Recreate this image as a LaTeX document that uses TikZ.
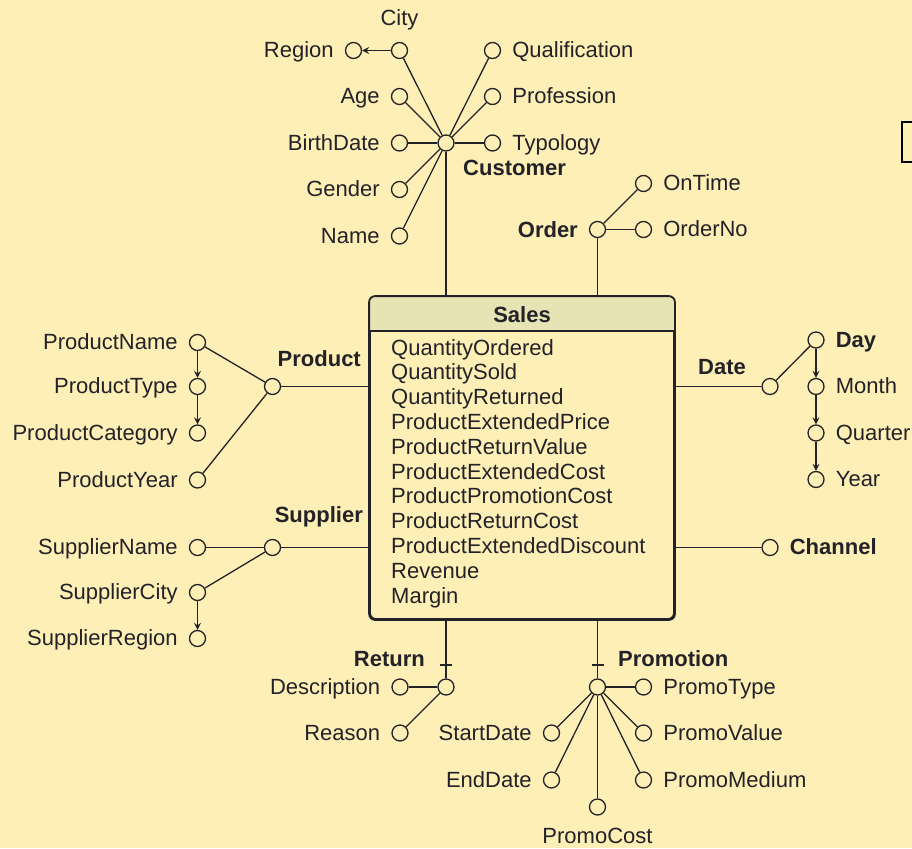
\documentclass[tikz,border=0pt]{standalone}
\usepackage{fontspec}
\setmainfont{Liberation Sans}
\usetikzlibrary{arrows.meta}
\definecolor{paper}{RGB}{254,239,182}
\definecolor{headfill}{RGB}{230,227,180}
\definecolor{ink}{RGB}{34,34,40}

\begin{document}
\begin{tikzpicture}[x=1pt,y=-1pt,
  attr/.style={circle, draw=ink, line width=1.3pt, minimum size=16pt, inner sep=0pt, fill=paper},
  link/.style={draw=ink, line width=1.3pt},
  hier/.style={link, -{Stealth[length=7pt,width=7pt,inset=2.5pt]}},
  txt/.style={inner sep=0pt, text=ink, font=\fontsize{22}{24.8}\selectfont},
  dim/.style={txt, font=\fontsize{22}{24.8}\selectfont\bfseries},
  lblL/.style={txt, anchor=base east, xshift=-11pt, yshift=-7pt},
  lblR/.style={txt, anchor=base west, xshift=11pt, yshift=-7pt},
  dimR/.style={dim, anchor=base west, xshift=11pt, yshift=-7pt},
  fact/.style={draw=ink, line width=1.8pt, rounded corners=6pt, inner sep=0pt, fill=paper}
]
\useasboundingbox (0,0) rectangle (912,848);
\fill[paper] (0,0) rectangle (912,848);
\clip (0,0) rectangle (912,848);

% ---------- fact table ----------
\node[fact, minimum width=304pt, minimum height=322pt] (sales) at (522,458) {};
\begin{scope}
  \clip[rounded corners=6pt] (sales.north west) rectangle (sales.south east);
  \fill[headfill] (sales.north west) rectangle ([yshift=-35pt]sales.north east);
\end{scope}
\draw[ink, line width=1.8pt] ([yshift=-35pt]sales.north west) -- ([yshift=-35pt]sales.north east);
\draw[ink, line width=1.8pt, rounded corners=6pt] (sales.north west) rectangle (sales.south east);
\node[dim, anchor=base] (salestitle) at (522,322) {Sales};
\foreach \m [count=\i] in {QuantityOrdered, QuantitySold, QuantityReturned,
    ProductExtendedPrice, ProductReturnValue, ProductExtendedCost,
    ProductPromotionCost, ProductReturnCost, ProductExtendedDiscount,
    Revenue, Margin}
  \node[txt, anchor=base west] (m\i) at (391,{355+24.8*(\i-1)}) {\m};

% ---------- Customer ----------
\node[attr] (cust)   at (446,143) {};
\node[attr] (city)   at (399.5,50.5) {};
\node[attr] (region) at (353.5,50.5) {};
\node[attr] (age)    at (399.5,96.5) {};
\node[attr] (birth)  at (399.5,143) {};
\node[attr] (gender) at (399.5,189.5) {};
\node[attr] (name)   at (399.5,236) {};
\node[attr] (qual)   at (492.5,50.5) {};
\node[attr] (prof)   at (492.5,96.5) {};
\node[attr] (typo)   at (492.5,143) {};
\node[txt, anchor=base, yshift=16pt] (tcity) at (city.north) {City};
\node[lblL] (tregion) at (region.west) {Region};
\node[lblL] (tage)    at (age.west) {Age};
\node[lblL] (tbirth)  at (birth.west) {BirthDate};
\node[lblL] (tgender) at (gender.west) {Gender};
\node[lblL] (tname)   at (name.west) {Name};
\node[lblR] (tqual)   at (qual.east) {Qualification};
\node[lblR] (tprof)   at (prof.east) {Profession};
\node[lblR] (ttypo)   at (typo.east) {Typology};
\node[dim, anchor=base west] (tcust) at (463,175) {Customer};
\foreach \a in {city,age,birth,gender,name,qual,prof,typo}
  \draw[link] (cust) -- (\a);
\draw[hier] (city) -- (region);
\draw[link] (cust) -- (cust |- sales.north);

% ---------- Order ----------
\node[attr] (order)   at (597.5,229.5) {};
\node[attr] (ontime)  at (643.5,183.5) {};
\node[attr] (orderno) at (643.5,229.5) {};
\node[lblR] (tontime)  at (ontime.east) {OnTime};
\node[lblR] (torderno) at (orderno.east) {OrderNo};
\node[dim, anchor=base east] (torder) at (578,237) {Order};
\draw[link] (order) -- (ontime);
\draw[link] (order) -- (orderno);
\draw[link] (order) -- (order |- sales.north);

% ---------- Product ----------
\node[attr] (prod)  at (272.5,386.5) {};
\node[attr] (pname) at (197.5,342.5) {};
\node[attr] (ptype) at (197.5,386.5) {};
\node[attr] (pcat)  at (197.5,433) {};
\node[attr] (pyear) at (197.5,480) {};
\node[lblL] (tpname) at (pname.west) {ProductName};
\node[lblL] (tptype) at (ptype.west) {ProductType};
\node[lblL] (tpcat)  at (pcat.west) {ProductCategory};
\node[lblL] (tpyear) at (pyear.west) {ProductYear};
\node[dim, anchor=base east] (tprod) at (361,366) {Product};
\draw[link] (prod) -- (pname);
\draw[link] (prod) -- (pyear);
\draw[hier] (pname) -- (ptype);
\draw[hier] (ptype) -- (pcat);
\draw[link] (prod) -- (prod -| sales.west);

% ---------- Supplier ----------
\node[attr] (supp)    at (272.5,547.5) {};
\node[attr] (sname)   at (197.5,547.5) {};
\node[attr] (scity)   at (197.5,592.5) {};
\node[attr] (sregion) at (197.5,638.5) {};
\node[lblL] (tsname)   at (sname.west) {SupplierName};
\node[lblL] (tscity)   at (scity.west) {SupplierCity};
\node[lblL] (tsregion) at (sregion.west) {SupplierRegion};
\node[dim, anchor=base east] (tsupp) at (363,522) {Supplier};
\draw[link] (supp) -- (sname);
\draw[link] (supp) -- (scity);
\draw[hier] (scity) -- (sregion);
\draw[link] (supp) -- (supp -| sales.west);

% ---------- Date ----------
\node[attr] (date)    at (770,386.5) {};
\node[attr] (day)     at (816,340) {};
\node[attr] (month)   at (816,386.5) {};
\node[attr] (quarter) at (816,433) {};
\node[attr] (year)    at (816,479.5) {};
\node[dimR] (tday)     at (day.east) {Day};
\node[lblR] (tmonth)   at (month.east) {Month};
\node[lblR] (tquarter) at (quarter.east) {Quarter};
\node[lblR] (tyear)    at (year.east) {Year};
\node[dim, anchor=base west] (tdate) at (698,374) {Date};
\draw[link] (date) -- (day);
\draw[hier] (day) -- (month);
\draw[hier] (month) -- (quarter);
\draw[hier] (quarter) -- (year);
\draw[link] (date) -- (date -| sales.east);

% ---------- Channel ----------
\node[attr] (chan) at (770,547.5) {};
\node[dimR] (tchan) at (chan.east) {Channel};
\draw[link] (chan) -- (chan -| sales.east);

% ---------- Return ----------
\node[attr] (ret)    at (446,687) {};
\node[attr] (descr)  at (400,687) {};
\node[attr] (reason) at (400,733) {};
\node[lblL] (tdescr)  at (descr.west) {Description};
\node[lblL] (treason) at (reason.west) {Reason};
\node[dim, anchor=base east] (tret) at (425,666.5) {Return};
\draw[link] (ret) -- (descr);
\draw[link] (ret) -- (reason);
\draw[link] (ret) -- (ret |- sales.south);
\draw[link] (ret) ++(-6,-22) -- ++(12,0);

% ---------- Promotion ----------
\node[attr] (promo)   at (597.5,687) {};
\node[attr] (promotp) at (643.5,687) {};
\node[attr] (promov)  at (643.5,733) {};
\node[attr] (promom)  at (643.5,780) {};
\node[attr] (promoc)  at (597.5,807) {};
\node[attr] (sdate)   at (551.5,733) {};
\node[attr] (edate)   at (551.5,780) {};
\node[lblR] (tpromotp) at (promotp.east) {PromoType};
\node[lblR] (tpromov)  at (promov.east) {PromoValue};
\node[lblR] (tpromom)  at (promom.east) {PromoMedium};
\node[txt, anchor=base, yshift=-28pt] (tpromoc) at (promoc.south) {PromoCost};
\node[lblL] (tsdate) at (sdate.west) {StartDate};
\node[lblL] (tedate) at (edate.west) {EndDate};
\node[dim, anchor=base west] (tpromo) at (618,666.5) {Promotion};
\foreach \a in {promotp,promov,promom,promoc,sdate,edate}
  \draw[link] (promo) -- (\a);
\draw[link] (promo) -- (promo |- sales.south);
\draw[link] (promo) ++(-6,-22) -- ++(12,0);

% ---------- frame cut by the right edge ----------
\draw[black, line width=2.6pt] (902,122) rectangle (940,162);
\end{tikzpicture}
\end{document}
